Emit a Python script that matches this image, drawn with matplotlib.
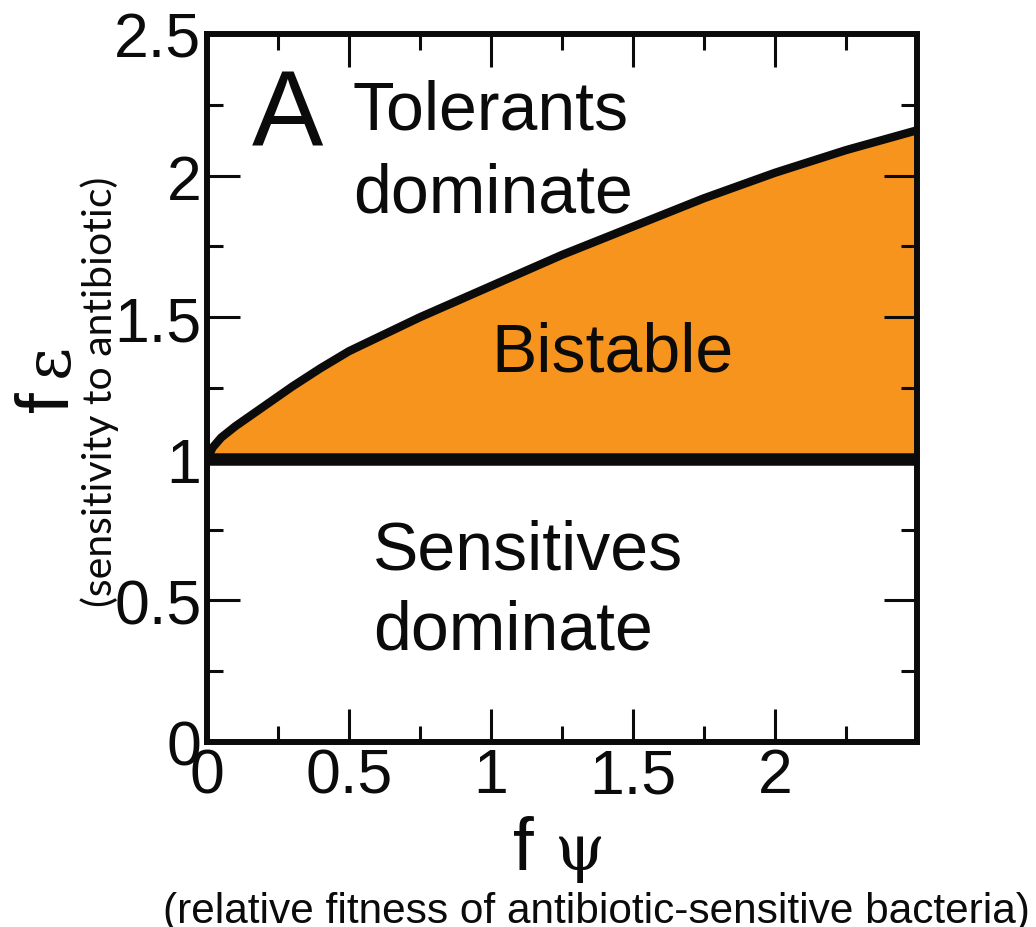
"""Phase diagram of tolerant vs sensitive bacteria: f_psi against f_epsilon,
with the bistable region shaded between the two boundaries.
"""

import matplotlib
matplotlib.use("Agg")
import matplotlib.pyplot as plt
from matplotlib.ticker import MultipleLocator, FormatStrFormatter

W, H, DPI = 1036, 928, 100
C = {"ink": "#0b0b0b", "bistable": "#f7941d", "page": "white"}
SANS = "Liberation Sans"
GREEK = "DejaVu Serif"

# upper boundary of the bistable region, read along f_psi
F_PSI = [0.0, 0.02, 0.05, 0.1, 0.15, 0.2, 0.3, 0.4, 0.5, 0.625, 0.75, 0.875, 1.0,
         1.25, 1.5, 1.75, 2.0, 2.25, 2.5]
F_EPS_UPPER = [1.0, 1.04, 1.075, 1.115, 1.15, 1.185, 1.255, 1.32, 1.38, 1.44, 1.50,
               1.555, 1.61, 1.72, 1.82, 1.92, 2.01, 2.09, 2.16]
# lower boundary is flat
F_EPS_LOWER = 1.0

X_MAJOR = [0, 0.5, 1, 1.5, 2]
Y_MAJOR = [0, 0.5, 1, 1.5, 2, 2.5]
XLIM = (0, 2.5)
YLIM = (0, 2.5)


def px(x, y):
    """pixel position (from top-left) -> figure fraction"""
    return x / W, 1 - y / H


fig = plt.figure(figsize=(W / DPI, H / DPI), dpi=DPI)
fig.patch.set_facecolor(C["page"])
l, b = px(207, 743)
r, t = px(917, 35)
ax = fig.add_axes([l, b, r - l, t - b])

ax.fill_between(F_PSI, F_EPS_LOWER, F_EPS_UPPER, color=C["bistable"], lw=0, zorder=1)
ax.plot(F_PSI, F_EPS_UPPER, color=C["ink"], lw=6, solid_capstyle="butt",
        solid_joinstyle="round", zorder=3)
ax.axhline(F_EPS_LOWER, color=C["ink"], lw=9, zorder=3)

ax.set_xlim(*XLIM)
ax.set_ylim(*YLIM)
ax.set_xticks(X_MAJOR)
ax.set_yticks(Y_MAJOR)
ax.xaxis.set_minor_locator(MultipleLocator(0.25))
ax.yaxis.set_minor_locator(MultipleLocator(0.25))
ax.xaxis.set_major_formatter(FormatStrFormatter("%g"))
ax.yaxis.set_major_formatter(FormatStrFormatter("%g"))
ax.tick_params(which="both", direction="in", top=True, right=True,
               color=C["ink"], width=2.2)
ax.tick_params(which="major", length=24)
ax.tick_params(which="minor", length=11.5)
ax.tick_params(axis="x", pad=3)
ax.tick_params(axis="y", pad=4)
for lab in ax.get_xticklabels() + ax.get_yticklabels():
    lab.set_fontfamily(SANS)
    lab.set_fontsize(45)
    lab.set_color(C["ink"])
for s in ax.spines.values():
    s.set_linewidth(4.3)
    s.set_color(C["ink"])
    s.set_zorder(4)

# region labels, one text per line so baselines sit exactly
lbl = dict(family=SANS, fontsize=49, color=C["ink"], ha="left", va="baseline", zorder=5)
ax.text(0.158, 2.106, "A", family=SANS, fontsize=77, color=C["ink"],
        ha="left", va="baseline", zorder=5)
ax.text(0.512, 2.166, "Tolerants", **lbl)
ax.text(0.515, 1.873, "dominate", **lbl)
ax.text(1.0, 1.311, "Bistable", **lbl)
ax.text(0.585, 0.611, "Sensitives", **lbl)
ax.text(0.585, 0.329, "dominate", **lbl)

# axis names: sans "f" followed by a serif greek letter
fig.text(*px(513, 870), "f", family=SANS, fontsize=54, color=C["ink"],
         ha="left", va="baseline")
fig.text(*px(555, 870), "ψ", family=GREEK, fontsize=46, color=C["ink"],
         ha="left", va="baseline")
fig.text(*px(68, 412), "f", family=SANS, fontsize=54, color=C["ink"],
         ha="left", va="baseline", rotation=90, rotation_mode="anchor")
fig.text(*px(68, 377), "ε", family=GREEK, fontsize=46, color=C["ink"],
         ha="left", va="baseline", rotation=90, rotation_mode="anchor")

fig.text(*px(596, 923), "(relative fitness of antibiotic-sensitive bacteria)",
         family=SANS, fontsize=30.5, color=C["ink"], ha="center", va="baseline")
fig.text(*px(112, 392), "(sensitivity to antibiotic)", family="Lato", fontsize=29.5,
         color=C["ink"], ha="center", va="baseline", rotation=90,
         rotation_mode="anchor")

fig.savefig("out.png", dpi=DPI, facecolor=C["page"])
